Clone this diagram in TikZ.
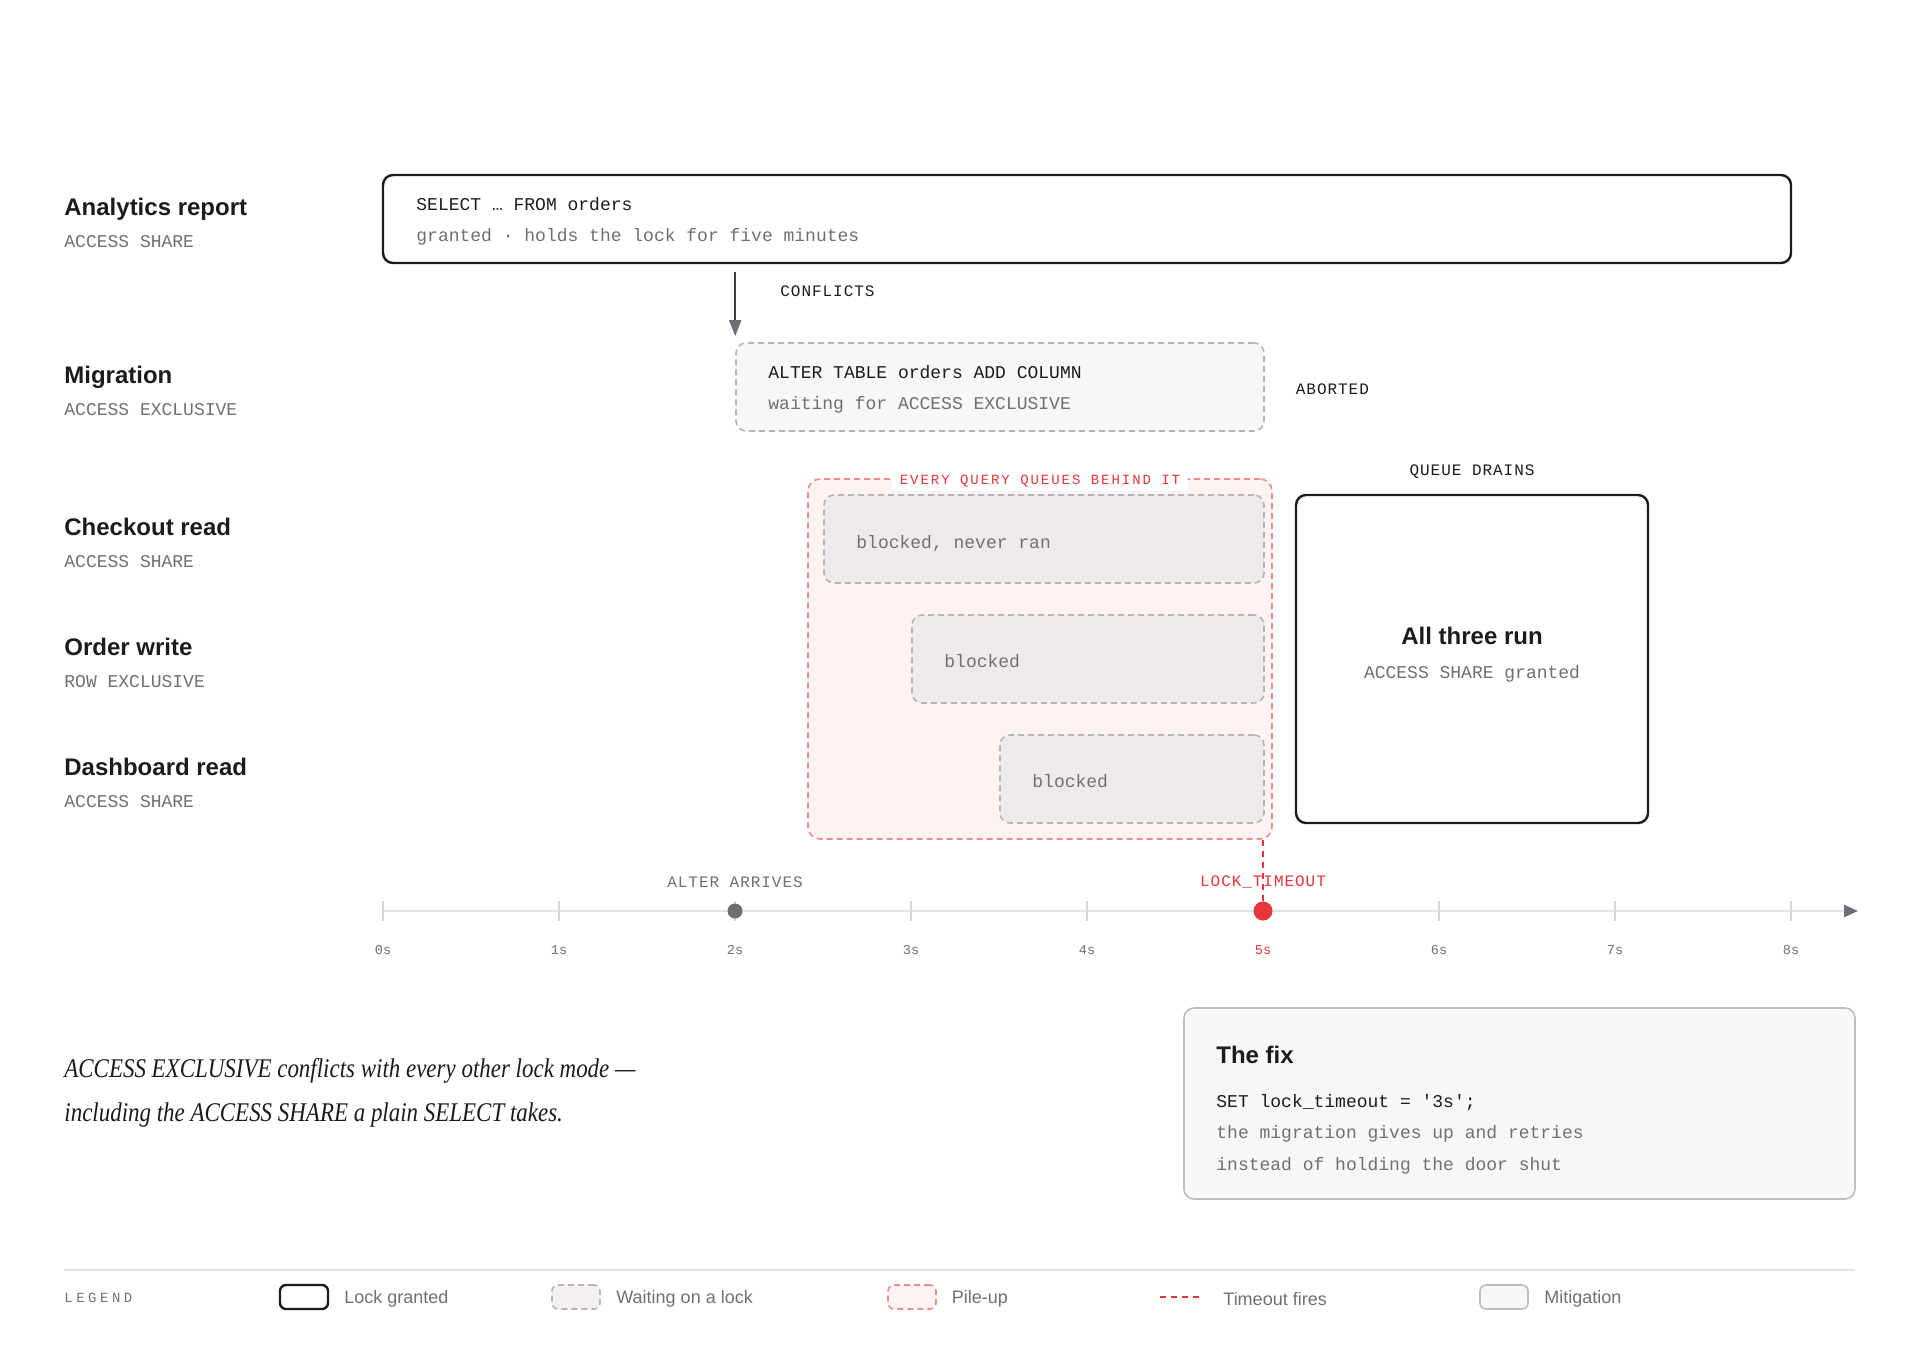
\documentclass[tikz,border=0pt]{standalone}
\usepackage{fontspec}
\usetikzlibrary{arrows.meta,fit}
\setmainfont{Liberation Sans}
\setmonofont{Liberation Mono}
\newfontfamily\capmono[LetterSpace=6]{Liberation Mono}
\newfontfamily\tinymono[LetterSpace=14]{Liberation Mono}
\newfontfamily\legmono[LetterSpace=25]{Liberation Mono}
\newfontfamily\quotefont[FakeStretch=0.85]{Liberation Serif}
\definecolor{ink}{HTML}{1C1C1E}
\definecolor{mute}{HTML}{707074}
\definecolor{dashgray}{HTML}{B4B4B8}
\definecolor{waitfill}{HTML}{F7F7F7}
\definecolor{blockfill}{HTML}{F0E9E9}
\definecolor{pilefill}{HTML}{FDF3F2}
\definecolor{pileline}{HTML}{F08C8C}
\definecolor{alarm}{HTML}{E8353A}
\definecolor{axisc}{HTML}{E3E3E6}
\definecolor{tickc}{HTML}{D6D6DA}
\definecolor{fixline}{HTML}{BDBDC0}
\definecolor{arrowc}{HTML}{6E6E76}
\tikzset{
  granted/.style={draw=ink, line width=1.2pt, rounded corners=5pt, fill=white, inner sep=0pt},
  waiting/.style={draw=dashgray, line width=0.8pt, dash pattern=on 3pt off 2pt, rounded corners=5pt, fill=waitfill, inner sep=0pt},
  blockedbox/.style={waiting, fill=blockfill},
  pileup/.style={draw=pileline, line width=0.8pt, dash pattern=on 3pt off 2pt, rounded corners=6pt, fill=pilefill, inner sep=0pt},
  fixbox/.style={draw=fixline, line width=0.8pt, rounded corners=5pt, fill=waitfill, inner sep=0pt},
  rowtitle/.style={anchor=base west, font=\bfseries\fontsize{12}{14}\selectfont, text=ink, inner sep=0pt},
  rowsub/.style={anchor=base west, font=\ttfamily\fontsize{9}{11}\selectfont, text=mute, inner sep=0pt},
  code/.style={anchor=base west, font=\ttfamily\fontsize{9}{11}\selectfont, text=ink, inner sep=0pt},
  codemute/.style={code, text=mute},
  caplabel/.style={font=\capmono\fontsize{8}{10}\selectfont, text=ink, inner sep=0pt},
  ticklabel/.style={font=\ttfamily\fontsize{6.8}{8}\selectfont, text=mute, inner sep=0pt},
  legtext/.style={anchor=west, font=\fontsize{9}{11}\selectfont, text=mute, inner sep=0pt},
  conn/.style={draw=ink!85, line width=1pt, -{Triangle[length=8pt,width=6pt,color=arrowc]}},
  timeout/.style={draw=alarm, line width=1pt, dash pattern=on 3pt off 2.5pt},
}
\begin{document}
\begin{tikzpicture}[x=0.5pt,y=-0.5pt]
\useasboundingbox[fill=white] (0,0) rectangle (1920,1345);

% row labels
\node[rowtitle] (t1) at (64,215.5) {Analytics report};
\node[rowsub]   (s1) at (64,247.3) {ACCESS SHARE};
\node[rowtitle] (t2) at (64,383.3) {Migration};
\node[rowsub]   (s2) at (64,415.1) {ACCESS EXCLUSIVE};
\node[rowtitle] (t3) at (64,535.1) {Checkout read};
\node[rowsub]   (s3) at (64,567) {ACCESS SHARE};
\node[rowtitle] (t4) at (64,655.1) {Order write};
\node[rowsub]   (s4) at (64,687) {ROW EXCLUSIVE};
\node[rowtitle] (t5) at (64,775.1) {Dashboard read};
\node[rowsub]   (s5) at (64,807) {ACCESS SHARE};

% analytics box
\node[granted, fit={(383,175) (1791,263)}] (ana) {};
\node[code] (anaA) at (416,210.6) {SELECT … FROM orders};
\node[codemute] (anaB) at (416,241) {granted · holds the lock for five minutes};

% migration box
\node[waiting, fit={(736,343) (1264,431)}] (mig) {};
\node[code] (migA) at (768,378.4) {ALTER TABLE orders ADD COLUMN};
\node[codemute] (migB) at (768,409) {waiting for ACCESS EXCLUSIVE};
\node[caplabel, anchor=west] (abort) at (1295.5,389.4) {ABORTED};

% conflict arrow
\draw[conn] ([yshift=-4pt]ana.south -| mig.north west) -- ([yshift=3pt]mig.north west);
\node[caplabel, anchor=west] (confl) at (780,291.5) {CONFLICTS};

% pile-up
\node[pileup, fit={(808,479) (1272,839)}] (pile) {};
\node[blockedbox, fit={(824,495) (1264,583)}] (b1) {};
\node[blockedbox, fit={(912,615) (1264,703)}] (b2) {};
\node[blockedbox, fit={(1000,735) (1264,823)}] (b3) {};
\node[code, text=mute, anchor=west] (b1t) at (856,544) {blocked, never ran};
\node[code, text=mute, anchor=west] (b2t) at (944,661.5) {blocked};
\node[code, text=mute, anchor=west] (b3t) at (1032,781.5) {blocked};
\node[font=\tinymono\fontsize{7}{9}\selectfont, text=alarm, fill=white, rounded corners=2pt, inner xsep=4pt, inner ysep=2pt] (pilelbl) at (1040,481) {EVERY QUERY QUEUES BEHIND IT};

% queue drains
\node[caplabel] (drain) at (1472,471.5) {QUEUE DRAINS};
\node[granted, fit={(1296,495) (1648,823)}] (run) {};
\node[font=\bfseries\fontsize{12}{14}\selectfont, text=ink, inner sep=0pt] (runA) at (1472,635.5) {All three run};
\node[font=\ttfamily\fontsize{9}{11}\selectfont, text=mute, inner sep=0pt] (runB) at (1472,674) {ACCESS SHARE granted};

% timeline
\coordinate (ax0) at (383,911);
\coordinate (axend) at (1858,911);
\draw[axisc, line width=1.2pt, -{Triangle[length=7pt,width=6pt,color=arrowc]}] (ax0) -- (axend);
\foreach \k in {0,...,8} {
  \draw[tickc, line width=0.6pt] (383+176*\k,901) -- (383+176*\k,921);
}
\foreach \k in {0,1,2,3,4,6,7,8} {
  \node[ticklabel] (tl\k) at (383+176*\k,950) {\k s};
}
\node[ticklabel, text=alarm] (tl5) at (1263,950) {5s};
\node[circle, fill=arrowc, inner sep=0pt, minimum size=7.5pt] (adot) at (735,911) {};
\node[circle, fill=alarm, inner sep=0pt, minimum size=9.5pt] (tdot) at (1263,911) {};
\draw[timeout] (pile.south -| tdot) -- (tdot.north);
\node[caplabel, text=mute] (arrives) at (735,882) {ALTER ARRIVES};
\node[caplabel, text=alarm] (lockto) at (1263,882) {LOCK\_TIMEOUT};

% quote
\node[anchor=base west, inner sep=0pt, font=\quotefont\itshape\fontsize{13.5}{16}\selectfont, text=ink] (q1) at (64,1077.6) {ACCESS EXCLUSIVE conflicts with every other lock mode —};
\node[anchor=base west, inner sep=0pt, font=\quotefont\itshape\fontsize{13.5}{16}\selectfont, text=ink] (q2) at (64,1121.7) {including the ACCESS SHARE a plain SELECT takes.};

% fix box
\node[fixbox, fit={(1184,1008) (1855,1199)}] (fix) {};
\node[rowtitle] (fixT) at (1216,1063) {The fix};
\node[code] (fixA) at (1216,1107) {SET lock\_timeout = '3s';};
\node[codemute] (fixB) at (1216,1138.8) {the migration gives up and retries};
\node[codemute] (fixC) at (1216,1170.6) {instead of holding the door shut};

% legend
\coordinate (lgL) at (64,1270);
\coordinate (lgR) at (1855,1270);
\draw[axisc, line width=0.8pt] (lgL) -- (lgR);
\node[anchor=west, font=\legmono\fontsize{7}{9}\selectfont, text=mute, inner sep=0pt] (legend) at (64,1298) {LEGEND};
\node[granted, rounded corners=3pt, fit={(280,1285) (328,1309)}] (lg1) {};
\node[legtext] (lg1t) at (344,1299) {Lock granted};
\node[waiting, rounded corners=3pt, fill=blockfill!70!white, fit={(552,1285) (600,1309)}] (lg2) {};
\node[legtext] (lg2t) at (616,1299) {Waiting on a lock};
\node[pileup, rounded corners=3pt, fit={(888,1285) (936,1309)}] (lg3) {};
\node[legtext] (lg3t) at (951.5,1299) {Pile-up};
\coordinate (lg4a) at (1160,1297);
\coordinate (lg4b) at (1200,1297);
\draw[timeout] (lg4a) -- (lg4b);
\node[legtext] (lg4t) at (1223,1299) {Timeout fires};
\node[fixbox, rounded corners=3pt, fit={(1480,1285) (1528,1309)}] (lg5) {};
\node[legtext] (lg5t) at (1544,1299) {Mitigation};
\end{tikzpicture}
\end{document}
